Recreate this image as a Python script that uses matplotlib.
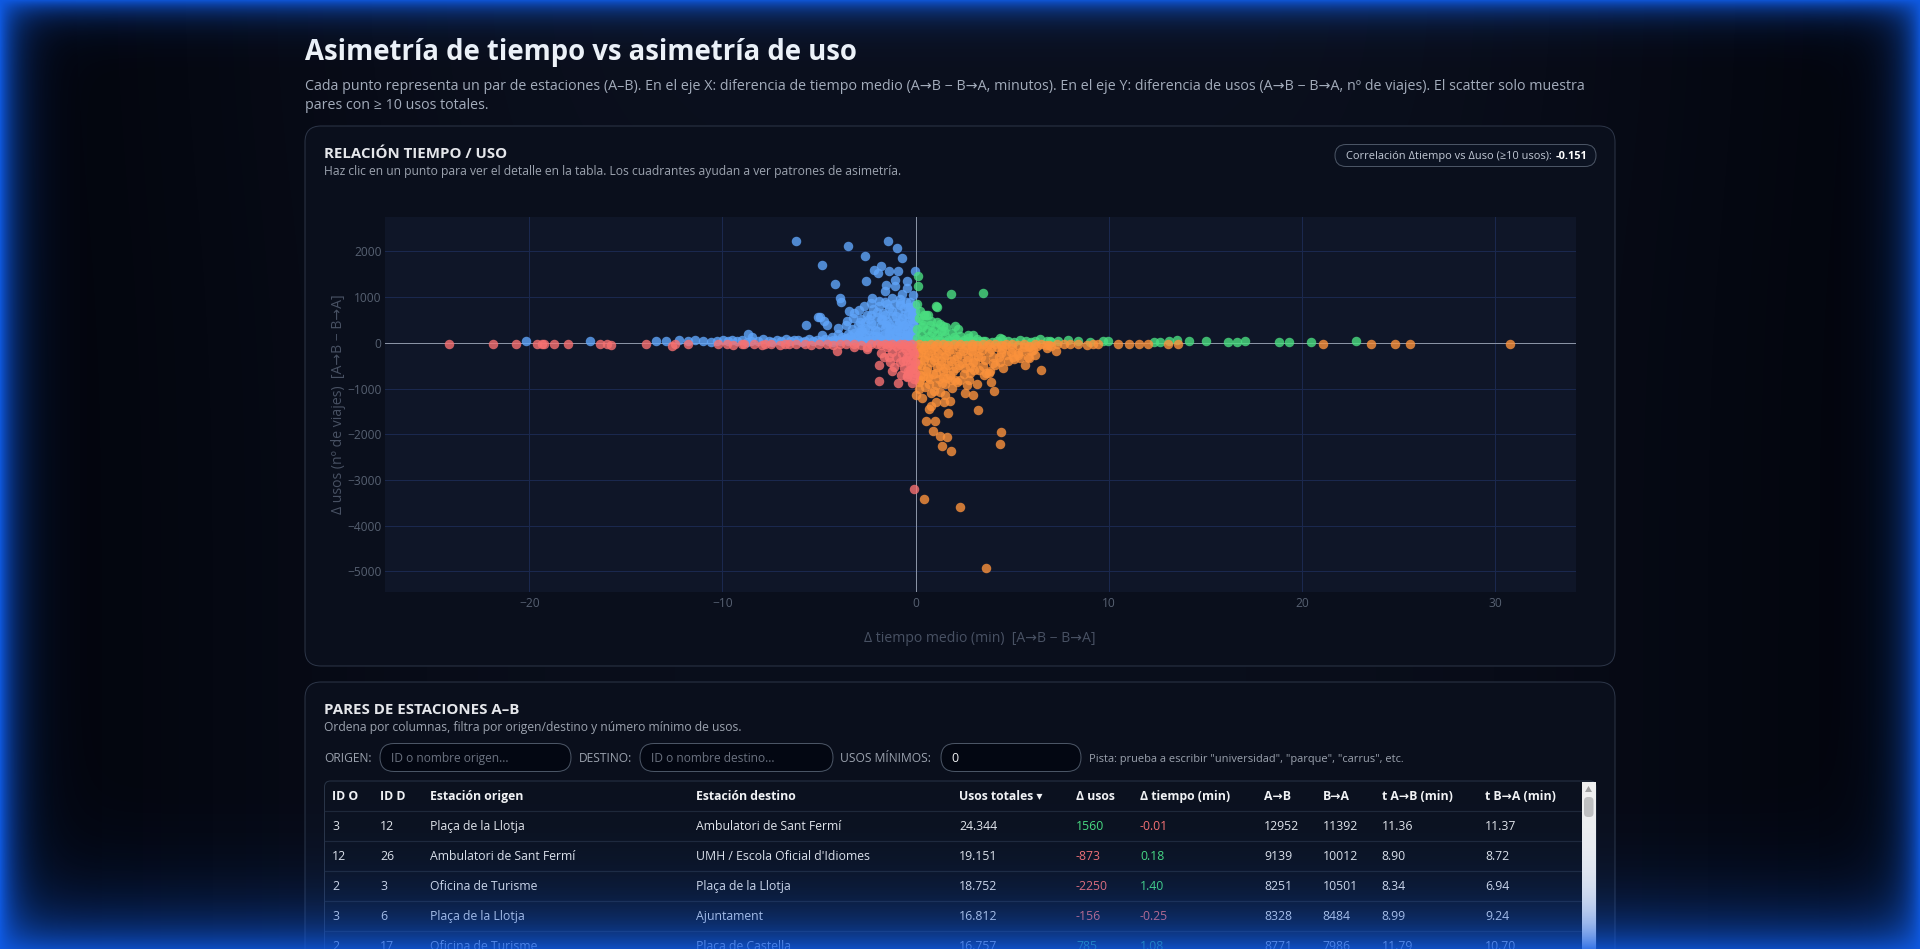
import numpy as np
import matplotlib.pyplot as plt
from matplotlib import font_manager as fm
from matplotlib.patches import FancyBboxPatch, Polygon, Rectangle


def has_bold(fam):
    for e in fm.fontManager.ttflist:
        if e.name == fam and (e.weight == 'bold' or (isinstance(e.weight, int) and e.weight >= 600)):
            return True
    return False


base_font = next((f for f in ['Noto Sans', 'Open Sans', 'Roboto', 'Lato'] if has_bold(f)), 'DejaVu Sans')
plt.rcParams['font.family'] = [base_font, 'DejaVu Sans']

W, H = 1920, 949

# Δ tiempo medio (min), Δ usos (viajes) por cuadrante
blue_pts = [
    (-6.19, 2230), (-3.51, 2112), (-1.44, 2237), (-0.96, 2076), (-0.70, 1849), (-2.60, 1908),
    (-4.82, 1696), (-2.17, 1601), (-1.79, 1673), (-1.96, 1528), (-1.40, 1564), (-0.93, 1579),
    (-0.04, 1564), (-4.18, 1287), (-2.56, 1345), (-1.53, 1272), (-1.08, 1382), (-0.42, 1345),
    (-1.56, 1133), (-1.06, 1235), (-0.72, 1075), (-0.46, 1199), (-0.14, 1053), (-3.91, 980),
    (-3.86, 884), (-3.47, 702), (-4.94, 555), (-4.73, 482), (-4.56, 395), (-5.67, 388),
    (-4.82, 175), (-2.27, 972), (-1.91, 906), (-2.32, 870), (-2.94, 724), (-3.22, 533),
    (-3.53, 468), (-4.04, 322), (-4.33, 138), (-1.24, 982), (-0.79, 870), (-0.51, 885),
    (-0.29, 782), (-0.19, 687), (-5.03, 564), (-8.66, 190), (-8.45, 138),
    (-3.8, 120), (-3.5, 200), (-3.3, 300), (-3.1, 120), (-3.0, 400), (-2.9, 230), (-2.8, 520),
    (-2.7, 90), (-2.6, 330), (-2.5, 620), (-2.4, 180), (-2.3, 440), (-2.2, 730), (-2.1, 280),
    (-2.0, 560), (-1.9, 100), (-1.9, 800), (-1.8, 380), (-1.7, 650), (-1.6, 200), (-1.6, 900),
    (-1.5, 480), (-1.4, 760), (-1.3, 120), (-1.3, 320), (-1.2, 580), (-1.1, 850), (-1.0, 220),
    (-1.0, 430), (-0.9, 680), (-0.8, 120), (-0.8, 960), (-0.7, 340), (-0.7, 540), (-0.6, 760),
    (-0.5, 180), (-0.5, 420), (-0.4, 640), (-0.3, 90), (-0.3, 300), (-0.3, 900), (-0.2, 520),
    (-0.2, 720), (-0.1, 160), (-0.1, 380), (-0.1, 600), (-0.05, 250), (-0.05, 820),
    (-2.4, 60), (-1.7, 60), (-1.1, 60), (-0.6, 60), (-0.2, 60), (-3.4, 60), (-4.3, 60),
    (-4.0, 200), (-2.65, 800), (-3.2, 650), (-1.55, 400), (-0.95, 280), (-2.05, 150),
    (-2.75, 250), (-3.6, 380), (-1.35, 230), (-0.85, 480), (-0.45, 250), (-1.75, 520),
    (-3.6, 100), (-3.4, 150), (-3.2, 220), (-3.0, 180), (-2.8, 300), (-2.6, 150), (-2.6, 450),
    (-2.4, 280), (-2.4, 520), (-2.2, 150), (-2.2, 380), (-2.0, 260), (-2.0, 680), (-1.8, 150),
    (-1.8, 500), (-1.6, 320), (-1.6, 600), (-1.4, 180), (-1.4, 420), (-1.2, 300), (-1.2, 700),
    (-1.0, 120), (-1.0, 580), (-0.9, 400), (-0.8, 250), (-0.8, 820), (-0.6, 180), (-0.6, 380),
    (-0.6, 620), (-0.4, 150), (-0.4, 480), (-0.4, 780), (-0.2, 260), (-0.2, 620), (-0.15, 440),
    (-0.05, 520), (-0.05, 700), (-1.5, 850), (-2.3, 620), (-2.9, 450),
    (-20.17, 40), (-16.84, 45), (-13.45, 50), (-12.94, 35), (-12.27, 55), (-11.77, 30),
    (-11.44, 60), (-10.99, 45), (-10.6, 25), (-10.27, 50), (-9.95, 70), (-9.73, 30), (-9.5, 55),
    (-9.27, 40), (-9.0, 65), (-8.75, 20), (-8.5, 50), (-8.15, 35), (-7.9, 75), (-7.6, 40),
    (-7.41, 20), (-7.2, 60), (-6.95, 45), (-6.7, 85), (-6.5, 30), (-6.3, 55), (-6.1, 70),
    (-5.9, 25), (-5.7, 50), (-5.5, 90), (-5.3, 40), (-5.1, 65), (-4.9, 30), (-4.7, 80),
    (-4.5, 45), (-4.3, 20), (-4.1, 60), (-3.9, 35), (-3.7, 75), (-3.5, 30), (-3.3, 55),
    (-3.1, 20), (-2.9, 65), (-2.7, 35), (-2.5, 50), (-2.3, 25), (-2.1, 70), (-1.9, 40),
    (-1.7, 30), (-1.5, 55), (-1.3, 20), (-1.1, 40), (-0.9, 30), (-0.7, 45), (-0.5, 25),
    (-0.3, 35), (-0.1, 20),
]

green_pts = [
    (0.15, 1455), (0.15, 1250), (1.82, 1060), (3.49, 1089), (0.08, 848), (1.11, 782),
    (0.62, 599), (0.33, 504), (2.03, 358), (1.43, 372), (1.09, 453), (0.74, 387), (2.69, 175),
    (2.0, 138), (1.07, 796), (0.56, 614), (2.99, 175),
    (0.1, 100), (0.1, 300), (0.2, 550), (0.3, 200), (0.4, 400), (0.5, 80), (0.6, 280),
    (0.7, 150), (0.8, 480), (0.9, 60), (1.0, 330), (1.1, 180), (1.2, 90), (1.3, 260),
    (1.5, 140), (1.6, 340), (1.7, 60), (1.9, 220), (2.1, 90), (2.3, 160), (2.5, 60),
    (2.7, 110), (2.9, 50), (3.2, 90), (3.5, 40), (0.25, 700), (0.45, 620), (0.35, 350),
    (1.25, 420), (0.85, 230), (1.45, 250), (2.2, 300),
    (0.3, 30), (0.6, 45), (0.9, 25), (1.2, 40), (1.5, 20), (1.8, 35), (2.1, 50), (2.4, 25),
    (2.7, 40), (3.0, 20), (3.3, 45), (3.6, 30), (3.98, 25), (4.2, 40), (4.37, 103), (4.49, 90),
    (4.8, 35), (5.1, 25), (5.41, 66), (5.7, 30), (6.0, 20), (6.2, 40), (6.44, 80), (6.8, 30),
    (6.96, 51), (7.03, 25), (7.4, 35), (7.91, 66), (8.42, 30), (9.04, 25), (9.73, 30),
    (9.99, 35), (12.37, 25), (12.68, 20), (13.1, 30), (13.55, 60), (14.15, 30), (15.06, 30),
    (16.18, 25), (16.64, 25), (17.08, 30), (18.81, 20), (19.34, 25), (20.48, 20), (22.81, 44),
]

orange_pts = [
    (0.02, -1140), (0.35, -1213), (0.81, -1104), (1.24, -1067), (1.76, -1265), (1.45, -1301),
    (1.07, -1301), (0.69, -1455), (0.81, -1382), (1.67, -1528), (3.24, -1477), (4.05, -1053),
    (2.97, -1140), (2.56, -1104), (0.55, -1711), (1.0, -1711), (0.9, -1937), (1.29, -2039),
    (1.64, -2069), (1.38, -2252), (1.86, -2376), (4.42, -1959), (4.36, -2215), (0.45, -3406),
    (2.31, -3582), (3.67, -4919), (6.5, -592), (5.68, -482), (7.28, -168), (4.52, -555),
    (1.9, -994), (5.87, -336), (5.41, -336), (4.95, -190), (3.79, -665), (3.56, -702),
    (2.82, -665), (2.75, -811), (2.17, -848), (4.0, -445), (4.35, -410), (5.04, -300),
    (5.81, -300), (6.07, -153), (6.76, -44), (3.31, -592), (3.66, -665), (2.65, -921),
    (2.28, -811), (1.85, -811), (1.41, -738), (1.07, -921), (0.64, -738), (0.23, -811),
    (5.32, -263), (3.86, -625),
    (0.1, -100), (0.1, -350), (0.1, -600), (0.2, -850), (0.3, -200), (0.3, -480), (0.4, -720),
    (0.5, -80), (0.5, -320), (0.6, -560), (0.7, -900), (0.8, -180), (0.8, -420), (0.9, -680),
    (1.0, -60), (1.0, -300), (1.1, -520), (1.2, -780), (1.3, -150), (1.3, -400), (1.4, -620),
    (1.5, -900), (1.6, -80), (1.6, -260), (1.7, -480), (1.8, -700), (1.9, -140), (2.0, -360),
    (2.1, -560), (2.2, -60), (2.3, -240), (2.4, -440), (2.5, -680), (2.6, -120), (2.7, -320),
    (2.8, -520), (2.9, -60), (3.0, -220), (3.1, -420), (3.3, -120), (3.4, -300), (3.5, -500),
    (3.7, -60), (3.8, -200), (4.0, -320), (4.2, -100), (4.4, -220), (4.6, -60), (4.8, -400),
    (5.0, -120), (5.3, -220), (5.6, -80), (6.0, -180), (6.3, -60), (6.8, -120), (0.2, -1000),
    (0.5, -960), (0.95, -1050), (1.5, -1150), (3.9, -850), (3.2, -900),
    (0.15, -230), (0.15, -470), (0.25, -700), (0.4, -130), (0.45, -380), (0.55, -620),
    (0.65, -260), (0.75, -780), (0.9, -120), (0.95, -380), (1.05, -650), (1.15, -230),
    (1.25, -480), (1.35, -880), (1.45, -320), (1.55, -560), (1.65, -760), (1.75, -180),
    (1.85, -400), (1.95, -620), (2.05, -820), (2.15, -280), (2.25, -480), (2.45, -180),
    (2.55, -560), (2.65, -380), (2.85, -180), (2.95, -420), (3.05, -600), (3.25, -280),
    (3.45, -160), (3.6, -380), (3.9, -140), (4.1, -480), (4.3, -300), (4.5, -140), (4.7, -260),
    (5.1, -350), (5.5, -180), (5.9, -100), (6.2, -260), (7.0, -60),
    (0.2, -25), (0.5, -40), (0.8, -20), (1.1, -35), (1.4, -25), (1.7, -45), (2.0, -20),
    (2.3, -30), (2.6, -50), (2.9, -25), (3.2, -40), (3.5, -20), (3.8, -35), (4.1, -25),
    (4.4, -50), (4.7, -30), (5.0, -20), (5.3, -40), (5.6, -25), (5.9, -60), (6.2, -30),
    (6.5, -20), (6.9, -45), (7.3, -25), (7.7, -35), (8.0, -20), (8.4, -30), (8.88, -40),
    (9.2, -20), (9.46, -25), (10.5, -20), (11.03, -20), (11.58, -25), (12.05, -20),
    (13.09, -25), (13.6, -20), (21.1, -30), (23.57, -15), (24.82, -15), (25.59, -15),
    (30.77, -15),
]

red_pts = [
    (-4.08, -175), (-2.53, -139), (-1.89, -482), (-1.63, -314), (-1.89, -840), (-1.24, -607),
    (-0.93, -884), (-0.46, -746), (-0.38, -680), (-0.21, -884), (-0.43, -724), (-0.07, -3187),
    (-1.5, -100), (-1.2, -200), (-1.0, -300), (-0.9, -120), (-0.8, -420), (-0.7, -250),
    (-0.6, -550), (-0.5, -150), (-0.5, -380), (-0.4, -620), (-0.35, -250), (-0.3, -460),
    (-0.25, -120), (-0.2, -350), (-0.15, -560), (-0.1, -250), (-0.1, -800), (-0.05, -420),
    (-0.05, -650), (-1.3, -420), (-1.1, -520), (-0.75, -700), (-1.8, -220), (-3.2, -100),
    (-0.6, -80), (-1.4, -320), (-0.15, -180), (-0.3, -600), (-0.45, -300), (-0.65, -400),
    (-0.2, -480), (-0.1, -700),
    (-24.18, -20), (-21.88, -15), (-20.7, -20), (-19.6, -25), (-19.33, -30), (-19.25, -15),
    (-18.74, -20), (-18.0, -20), (-16.32, -15), (-16.0, -25), (-15.75, -45), (-13.95, -20),
    (-12.6, -60), (-12.47, -25), (-11.77, -20), (-10.25, -15), (-9.78, -25), (-9.47, -40),
    (-8.99, -20), (-8.88, -35), (-8.38, -25), (-7.97, -45), (-7.8, -20), (-7.5, -30),
    (-7.0, -50), (-6.78, -20), (-6.57, -35), (-6.2, -25), (-5.74, -20), (-5.4, -45),
    (-5.0, -30), (-4.6, -20), (-4.3, -40), (-3.93, -25), (-3.6, -35), (-3.17, -20),
    (-2.8, -45), (-2.54, -100), (-2.3, -30), (-2.0, -20), (-1.8, -50), (-1.6, -25),
    (-1.4, -40), (-1.2, -20), (-1.0, -60), (-0.8, -30), (-0.6, -20), (-0.4, -45), (-0.2, -25),
]

x_ticks = [-20, -10, 0, 10, 20, 30]
y_ticks = [-5000, -4000, -3000, -2000, -1000, 0, 1000, 2000]

# tabla
col_names = ['ID O', 'ID D', 'Estación origen', 'Estación destino', 'Usos totales ▾',
             'Δ usos', 'Δ tiempo (min)', 'A→B', 'B→A', 't A→B (min)', 't B→A (min)']
id_o = ['3', '12', '2', '3', '2']
id_d = ['12', '26', '3', '6', '17']
origen = ['Plaça de la Llotja', 'Ambulatori de Sant Fermí', 'Oficina de Turisme',
          'Plaça de la Llotja', 'Oficina de Turisme']
destino = ['Ambulatori de Sant Fermí', "UMH / Escola Oficial d'Idiomes", 'Plaça de la Llotja',
           'Ajuntament', 'Plaça de Castella']
usos_tot = ['24.344', '19.151', '18.752', '16.812', '16.757']
d_usos = [1560, -873, -2250, -156, 785]
d_tiempo = [-0.01, 0.18, 1.40, -0.25, 1.08]
n_ab = [12952, 9139, 8251, 8328, 8771]
n_ba = [11392, 10012, 10501, 8484, 7986]
t_ab = [11.36, 8.90, 8.34, 8.99, 11.79]
t_ba = [11.37, 8.72, 6.94, 9.24, 10.70]


def px(v):
    return v * 0.72


fig = plt.figure(figsize=(W / 100, H / 100), dpi=100)
bg = fig.add_axes([0, 0, 1, 1])

# fondo de la página
yy, xx = np.mgrid[0:H, 0:W].astype(float)
dark = np.array([2, 4, 12]) / 255
mid = np.array([11, 16, 30]) / 255
w = np.exp(-((xx - 960) / 760) ** 4) * 0.85 + 0.15 * np.exp(-((xx - 960) / 700) ** 2 - (yy / 260) ** 2)
page = dark + (mid - dark) * w[..., None]
bg.imshow(page, extent=(0, W, H, 0), aspect='auto', zorder=0)
bg.set_xlim(0, W)
bg.set_ylim(H, 0)
bg.axis('off')


def text(x, yc, s, size, color, weight='normal', ha='left', z=5):
    return bg.text(x, yc + 0.36 * size, s, fontsize=px(size), color=color,
                   fontweight=weight, ha=ha, va='baseline', zorder=z)


def rbox(x, y, w_, h_, r, fc, ec, lw=1.0, z=1):
    bg.add_patch(FancyBboxPatch((x, y), w_, h_, boxstyle=f"round,pad=0,rounding_size={r}",
                                fc=fc, ec=ec, lw=px(lw), zorder=z))


# cabecera
text(305, 50, 'Asimetría de tiempo vs asimetría de uso', 27.5, '#f1f5f9', 'bold')
text(305, 84.5, 'Cada punto representa un par de estaciones (A–B). En el eje X: diferencia de tiempo medio '
     '(A→B − B→A, minutos). En el eje Y: diferencia de usos (A→B − B→A, nº de viajes). El scatter solo muestra',
     14.2, '#a3acbb')
text(305, 103.5, 'pares con ≥ 10 usos totales.', 14.2, '#a3acbb')

# panel 1
rbox(305, 126, 1310, 540, 16, '#0a0f1c', '#2c3547')
text(324.5, 153, 'RELACIÓN TIEMPO / USO', 15, '#e5e7eb', 'bold')
text(324.5, 170.5, 'Haz clic en un punto para ver el detalle en la tabla. Los cuadrantes ayudan a ver '
     'patrones de asimetría.', 12.15, '#9ca3af')
rbox(1335, 144.5, 261, 22, 11, '#0c1322', '#4b5565')
r = fig.canvas.get_renderer()
tb = text(1587, 155.5, '-0.151', 11, '#ffffff', 'bold', ha='right')
x_left = tb.get_window_extent(r).x0
text(x_left - 1, 155.5, 'Correlación Δtiempo vs Δuso (≥10 usos): ', 11, '#c3cad6', ha='right')

bg.text(339, 404, 'Δ usos (nº de viajes)  [A→B − B→A]', fontsize=px(14), color='#485163',
        rotation=90, ha='center', va='center', zorder=5)
bg.text(980, 638, 'Δ tiempo medio (min)  [A→B − B→A]', fontsize=px(14), color='#485163',
        ha='center', va='center', zorder=5)

# scatter
L, R, T, B = 384.5, 1576, 216.7, 591.5
ax = fig.add_axes([L / W, 1 - B / H, (R - L) / W, (B - T) / H])
ax.set_facecolor('#0f1628')
ax.set_xlim(-27.5, 34.2)
ax.set_ylim(-5440, 2760)
ax.set_xticks(x_ticks)
ax.set_yticks(y_ticks)
ax.grid(color='#1a284e', lw=px(1))
ax.set_axisbelow(True)
ax.axhline(0, color='#8a93a5', lw=px(1), zorder=1.5)
ax.axvline(0, color='#8a93a5', lw=px(1), zorder=1.5)
for s in ax.spines.values():
    s.set_visible(False)
ax.tick_params(axis='both', length=0, labelcolor='#566071', labelsize=px(12))
ax.tick_params(axis='y', pad=2)
ax.tick_params(axis='x', pad=4)

for pts, c in [(blue_pts, '#60a5fa'), (green_pts, '#4ade80'),
               (orange_pts, '#fb923c'), (red_pts, '#f87171')]:
    xs = [p[0] for p in pts]
    ys = [p[1] for p in pts]
    ax.scatter(xs, ys, s=px(9.5) ** 2, color=c, alpha=0.8, linewidths=0, zorder=2)

# panel 2
rbox(305, 682, 1310, 420, 16, '#0a0f1c', '#2c3547')
text(324.5, 709, 'PARES DE ESTACIONES A–B', 15, '#e5e7eb', 'bold')
text(324.5, 727, 'Ordena por columnas, filtra por origen/destino y número mínimo de usos.', 12.15, '#9ca3af')

text(324.5, 758, 'ORIGEN:', 12, '#9ca3af')
rbox(380, 743.5, 191, 28, 14, '#030712', '#4b5565')
text(391, 758, 'ID o nombre origen…', 12, '#6b7280')
text(579, 758, 'DESTINO:', 12, '#9ca3af')
rbox(640, 743.5, 193, 28, 14, '#030712', '#4b5565')
text(651, 758, 'ID o nombre destino…', 12, '#6b7280')
text(840, 758, 'USOS MÍNIMOS:', 12, '#9ca3af')
rbox(941, 743.5, 140, 28, 14, '#030712', '#4b5565')
text(951, 758, '0', 12.5, '#f3f4f6')
text(1089, 758, 'Pista: prueba a escribir "universidad", "parque", "carrus", etc.', 11, '#9ca3af')

# tabla
rbox(324.5, 781, 1271.5, 300, 6, '#0b111e', '#2a3446')
col_x = [332, 380, 430.5, 695.5, 959, 1076, 1140, 1264, 1322.5, 1381.5, 1485]
for cx, name in zip(col_x, col_names):
    text(cx, 796, name, 12.2, '#f3f4f6', 'bold')
row_y = [826, 856, 886, 916, 946]
for ly in [811, 841, 871, 901, 931]:
    bg.plot([325, 1581], [ly, ly], color='#1f2838', lw=px(1.2), zorder=3)
for i, yc in enumerate(row_y):
    vals = [id_o[i], id_d[i], origen[i], destino[i], usos_tot[i],
            str(d_usos[i]), f'{d_tiempo[i]:.2f}', str(n_ab[i]), str(n_ba[i]),
            f'{t_ab[i]:.2f}', f'{t_ba[i]:.2f}']
    for j, (cx, v) in enumerate(zip(col_x, vals)):
        c = '#e5e7eb'
        if j == 5:
            c = '#4ade80' if d_usos[i] > 0 else '#f87171'
        if j == 6:
            c = '#4ade80' if d_tiempo[i] > 0 else '#f87171'
        text(cx, yc, v, 12.2, c)

# barra de desplazamiento
bg.add_patch(Rectangle((1582, 782), 13.5, 180, fc='#f1f1f1', ec='none', zorder=4))
bg.add_patch(Polygon([[1585, 792], [1592, 792], [1588.5, 786]], fc='#a3a3a3', ec='none', zorder=5))
rbox(1584, 797, 9.5, 20, 4, '#c1c1c1', 'none', lw=0, z=5)

# brillo azul en los bordes
glow = np.zeros((H, W, 4))
glow[..., 0] = 0.06
glow[..., 1] = 0.36
glow[..., 2] = 0.90
a_l = 0.95 * np.exp(-xx / 18)
a_r = 0.95 * np.exp(-(W - xx) / 18)
a_t = 0.9 * np.exp(-yy / 14)
a_b = 0.85 * np.exp(-(H - yy) / 34)
glow[..., 3] = 1 - (1 - a_l) * (1 - a_r) * (1 - a_t) * (1 - a_b)
ov = fig.add_axes([0, 0, 1, 1])
ov.imshow(glow, extent=(0, W, H, 0), aspect='auto')
ov.set_xlim(0, W)
ov.set_ylim(H, 0)
ov.axis('off')

fig.savefig('out.png', dpi=100)
